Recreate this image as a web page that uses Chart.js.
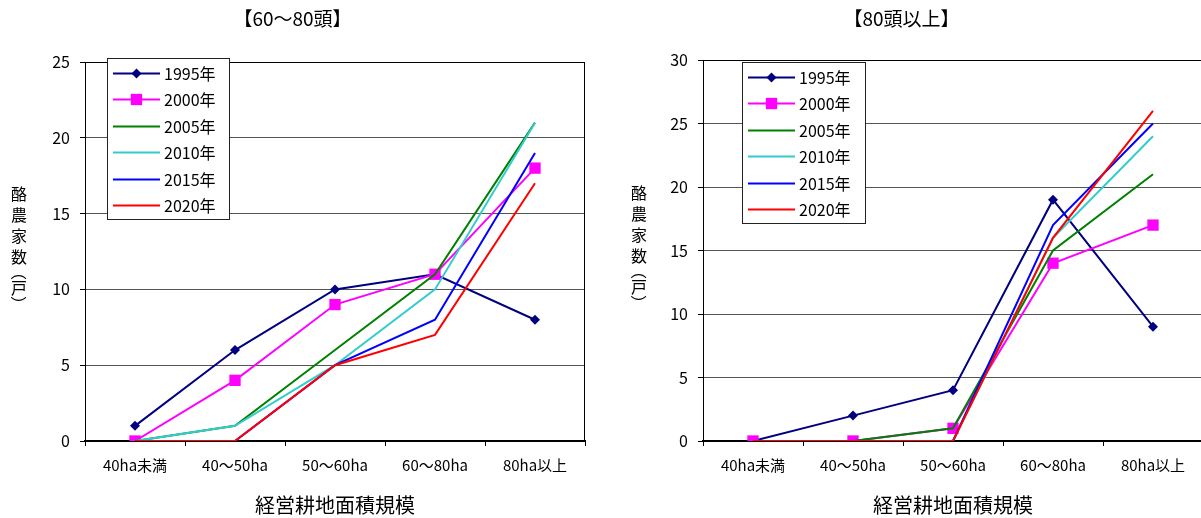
<!DOCTYPE html>
<html>
<head>
<meta charset="utf-8">
<script src="https://cdn.jsdelivr.net/npm/chart.js@4.4.0/dist/chart.umd.min.js"></script>
<style>
  html, body { margin: 0; padding: 0; background: #fff; overflow: hidden; width: 1201px; height: 518px; }
  .wrap { position: absolute; top: 0; height: 518px; }
  #wrapL { left: 0; width: 600px; }
  #wrapR { left: 600px; width: 650px; }
</style>
</head>
<body>
<div class="wrap" id="wrapL"><canvas id="chartL"></canvas></div>
<div class="wrap" id="wrapR"><canvas id="chartR"></canvas></div>
<script>
// data
const categories = ['40ha未満', '40～50ha', '50～60ha', '60～80ha', '80ha以上'];
const years = ['1995年', '2000年', '2005年', '2010年', '2015年', '2020年'];

// 【60～80頭】
const mid1995 = [1, 6, 10, 11, 8];
const mid2000 = [0, 4, 9, 11, 18];
const mid2005 = [0, 1, 6, 11, 21];
const mid2010 = [0, 1, 5, 10, 21];
const mid2015 = [0, 0, 5, 8, 19];
const mid2020 = [0, 0, 5, 7, 17];

// 【80頭以上】
const big1995 = [0, 2, 4, 19, 9];
const big2000 = [0, 0, 1, 14, 17];
const big2005 = [0, 0, 1, 15, 21];
const big2010 = [0, 0, 0, 16, 24];
const big2015 = [0, 0, 0, 17, 25];
const big2020 = [0, 0, 0, 16, 26];

const colors = ['#000080', '#FF00FF', '#008000', '#33CCCC', '#0000FF', '#FF0000'];
const FONT = '"Noto Sans CJK JP", "Noto Sans", sans-serif';
// vertical axis title, one glyph per row; brackets get turned a quarter
const yTitleChars = ['酪', '農', '家', '数', '（', '戸', '）'];
const yTitleOffsets = [0, 21, 42, 63, 78, 94, 110];

function makeDatasets(series) {
  return series.map((values, i) => ({
    label: years[i],
    data: values,
    borderColor: colors[i],
    backgroundColor: colors[i],
    borderWidth: 2,
    pointStyle: i === 0 ? 'rectRot' : 'rect',
    pointRadius: i === 0 ? 5 : (i === 1 ? 8 : 0),
    pointBorderWidth: 0,
    pointHoverRadius: 0,
    tension: 0,
    order: series.length - i   // later years drawn on top, like the original
  }));
}

// plot frame, vertical y title and boxed legend inside the plot
const decorPlugin = {
  id: 'decor',
  afterDatasetsDraw(chart, args, opts) {
    const ctx = chart.ctx;
    const a = chart.chartArea;
    ctx.save();

    ctx.strokeStyle = '#000';
    ctx.lineWidth = 1;
    ctx.strokeRect(Math.round(a.left) + 0.5, Math.round(a.top) + 0.5,
      Math.round(a.right - a.left) - 1, Math.round(a.bottom - a.top));

    ctx.fillStyle = '#000';
    ctx.font = '16px ' + FONT;
    ctx.textAlign = 'center';
    ctx.textBaseline = 'middle';
    yTitleChars.forEach((ch, i) => {
      const y = opts.titleY + yTitleOffsets[i];
      if (ch === '（' || ch === '）') {
        ctx.save();
        ctx.translate(opts.titleX, y);
        ctx.rotate(Math.PI / 2);
        ctx.fillText(ch, 0, 0);
        ctx.restore();
      } else {
        ctx.fillText(ch, opts.titleX, y);
      }
    });

    const L = opts.legend;
    ctx.fillStyle = '#fff';
    ctx.fillRect(L.x, L.y, L.w, L.h);
    ctx.strokeStyle = '#222';
    ctx.strokeRect(L.x + 0.5, L.y + 0.5, L.w, L.h);
    ctx.font = '16px ' + FONT;
    ctx.textAlign = 'left';
    chart.data.datasets.forEach((ds, i) => {
      const y = Math.round(L.y + L.first + i * L.step) + 0.5;
      ctx.strokeStyle = ds.borderColor;
      ctx.lineWidth = 2;
      ctx.beginPath();
      ctx.moveTo(L.x + 6, y);
      ctx.lineTo(L.x + 53, y);
      ctx.stroke();
      if (ds.pointRadius > 0) {
        ctx.fillStyle = ds.backgroundColor;
        Chart.helpers.drawPoint(ctx, { pointStyle: ds.pointStyle, radius: ds.pointRadius, rotation: 0, borderWidth: 0 },
          L.x + 29.5, y);
      }
      ctx.fillStyle = '#000';
      ctx.fillText(ds.label, L.x + 57, y);
    });
    ctx.restore();
  }
};

function makeChart(id, titleText, series, yMax, opts) {
  return new Chart(document.getElementById(id), {
    type: 'line',
    data: { labels: categories, datasets: makeDatasets(series) },
    plugins: [decorPlugin],
    options: {
      responsive: true,
      maintainAspectRatio: false,
      animation: false,
      events: [],
      layout: { padding: { left: 0, right: opts.padRight, top: 0, bottom: 0 } },
      plugins: {
        legend: { display: false },
        tooltip: { enabled: false },
        title: {
          display: true,
          text: titleText,
          color: '#000',
          font: { family: FONT, size: 19, weight: 'normal' },
          padding: { top: 7, bottom: opts.plotTop - 7 - 22.8 }
        },
        decor: opts.decor
      },
      scales: {
        x: {
          offset: true,
          afterFit: s => { s.height = 77; },
          grid: { offset: true, drawOnChartArea: false, tickLength: 5, color: '#000' },
          border: { color: '#000', width: 2 },
          ticks: { color: '#000', padding: 10, maxRotation: 0, autoSkip: false, font: { family: FONT, size: 15 } },
          title: {
            display: true,
            text: '経営耕地面積規模',
            color: '#000',
            font: { family: FONT, size: 20 },
            padding: { top: 0, bottom: 1 }
          }
        },
        y: {
          min: 0,
          max: yMax,
          afterFit: s => { s.width = opts.plotLeft; },
          grid: { color: '#555', tickLength: 5, tickColor: '#000' },
          border: { color: '#000' },
          ticks: { stepSize: 5, color: '#000', padding: 10, font: { family: FONT, size: 16 } }
        }
      }
    }
  });
}

makeChart('chartL', '【60～80頭】',
  [mid1995, mid2000, mid2005, mid2010, mid2015, mid2020], 25,
  { plotLeft: 85, plotTop: 62, padRight: 15,
    decor: { titleX: 19, titleY: 194, legend: { x: 107, y: 58, w: 122, h: 161, first: 15, step: 26.4 } } });

makeChart('chartR', '【80頭以上】',
  [big1995, big2000, big2005, big2010, big2015, big2020], 30,
  { plotLeft: 103, plotTop: 60, padRight: 47,
    decor: { titleX: 39, titleY: 193, legend: { x: 142, y: 62, w: 123, h: 161, first: 15, step: 26.4 } } });
</script>
</body>
</html>
